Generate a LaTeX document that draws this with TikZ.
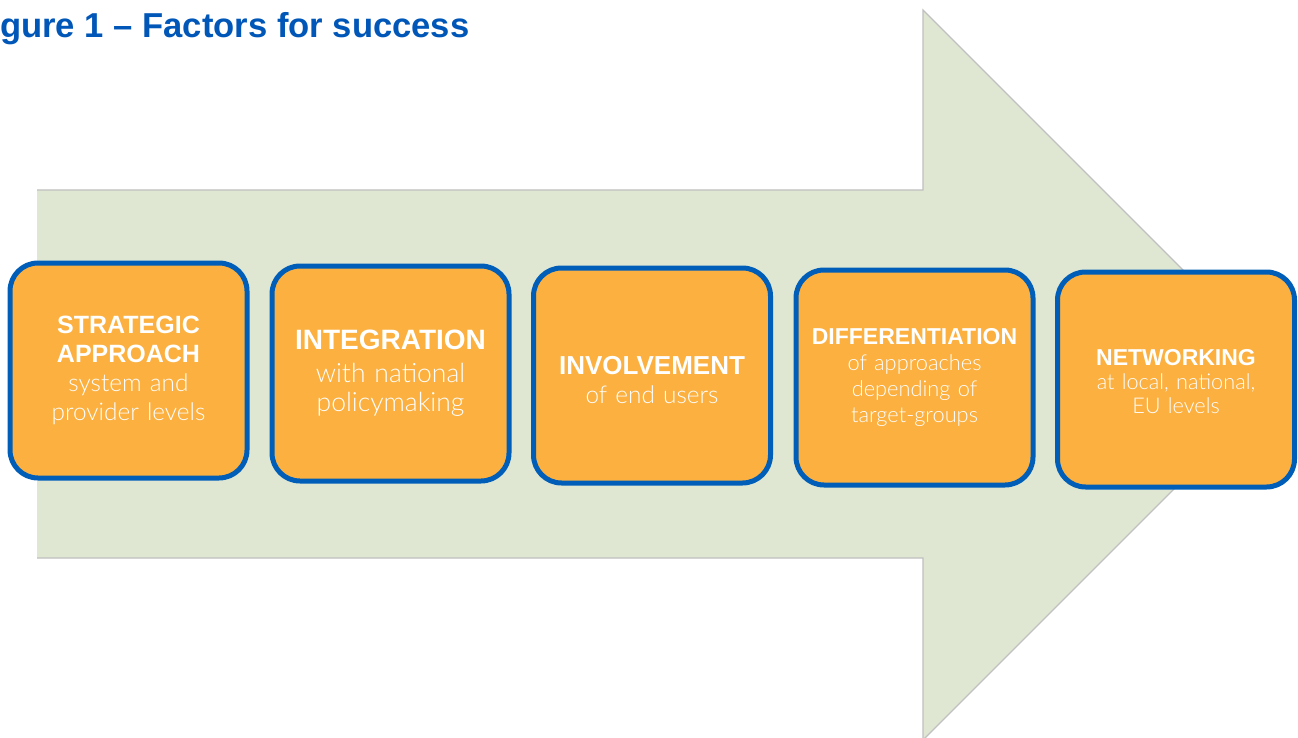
\documentclass[tikz,border=0pt]{standalone}
\usepackage{fontspec}
\setmainfont{Liberation Sans}
\IfFontExistsTF{Lato Light}
  {\newfontfamily\lightfont{Lato Light}}
  {\IfFontExistsTF{Open Sans Light}
    {\newfontfamily\lightfont{Open Sans Light}}
    {\newfontfamily\lightfont{Liberation Sans}}}
\newcommand{\factorhead}[2]{{\rmfamily\bfseries\fontsize{#1}{#1}\selectfont #2}}
\definecolor{arrowgreen}{RGB}{223,231,211}
\definecolor{arrowline}{RGB}{192,192,192}
\definecolor{boxorange}{RGB}{251,176,64}
\definecolor{boxblue}{RGB}{0,94,184}
\definecolor{titleblue}{RGB}{0,87,184}
\begin{document}
\begin{tikzpicture}[x=1pt,y=-1pt,
	factor/.style={draw=boxblue, line width=5pt, fill=boxorange,
		rounded corners=28pt, minimum width=237pt, minimum height=215pt,
		text width=236pt, align=center, text=white, inner sep=0pt}]
\useasboundingbox[fill=white] (0,0) rectangle (1298,738);
% Title
\node[anchor=base west, inner sep=0pt, text=titleblue,
	font=\bfseries\fontsize{34.6}{38}\selectfont] (title) at (0,38) {gure 1 – Factors for success};
% Big arrow
\fill[arrowgreen] (37,190) -- (923,190) -- (923,10) -- (1288,375) -- (923,740)
	-- (923,558) -- (37,558) -- cycle;
\draw[arrowline, line width=1.2pt] (37,190) -- (923,190) -- (923,10) -- (1288,375)
	-- (923,740) -- (923,558) -- (37,558);
% Strategic approach
\node[factor, font=\lightfont\fontsize{24.4}{29}\selectfont] (strategic) at (128.5,370.5)
	{\factorhead{25}{STRATEGIC}\\
	 \factorhead{25}{APPROACH}\\
	 system and\\provider levels};
% Integration
\node[factor, font=\lightfont\fontsize{26.5}{29}\selectfont] (integration) at (390.5,373.5)
	{\factorhead{28}{INTEGRATION}\\[4pt]
	 with national\\policymaking};
% Involvement
\node[factor, font=\lightfont\fontsize{24.4}{29}\selectfont] (involvement) at (652,375.5)
	{\rule{0pt}{27pt}\factorhead{26}{INVOLVEMENT}\\
	 of end users};
% Differentiation
\node[factor, font=\lightfont\fontsize{21.8}{26}\selectfont] (differentiation) at (914.5,377.5)
	{\factorhead{23}{DIFFERENTIATION}\\
	 of approaches\\depending of\\target-groups};
% Networking
\node[factor, font=\lightfont\fontsize{21.7}{24}\selectfont] (networking) at (1176,379.5)
	{\rule{0pt}{21pt}\factorhead{23}{NETWORKING}\\
	 at local, national,\\EU levels};
\end{tikzpicture}
\end{document}
